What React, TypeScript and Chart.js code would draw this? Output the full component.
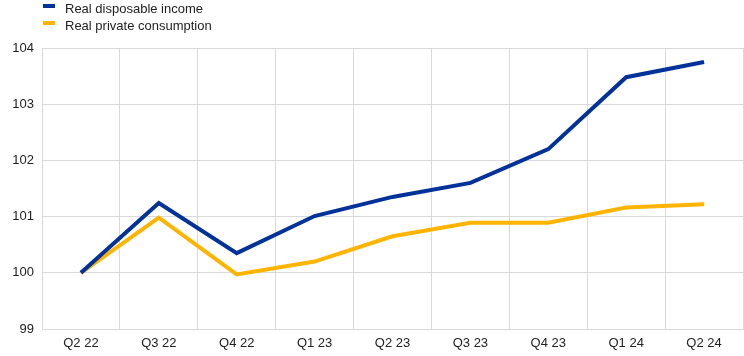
import React, { useEffect, useRef } from "react";
import { Chart, registerables } from "chart.js";

Chart.register(...registerables);

const categories = ["Q2 22", "Q3 22", "Q4 22", "Q1 23", "Q2 23", "Q3 23", "Q4 23", "Q1 24", "Q2 24"];
const disposableIncome = [100.0, 101.24, 100.35, 101.01, 101.35, 101.6, 102.2, 103.48, 103.75];
const privateConsumption = [100.0, 100.98, 99.97, 100.2, 100.65, 100.89, 100.89, 101.16, 101.22];
const seriesNames = ["Real disposable income", "Real private consumption"];
const seriesColors = ["#003299", "#ffb400"];

export default function App() {
  const ref = useRef<HTMLCanvasElement | null>(null);

  useEffect(() => {
    if (!ref.current) return;
    const chart = new Chart(ref.current, {
      type: "line",
      data: {
        labels: categories,
        datasets: [
          {
            label: seriesNames[0],
            data: disposableIncome,
            borderColor: seriesColors[0],
            backgroundColor: seriesColors[0],
            borderWidth: 4,
            pointRadius: 0,
            tension: 0,
          },
          {
            label: seriesNames[1],
            data: privateConsumption,
            borderColor: seriesColors[1],
            backgroundColor: seriesColors[1],
            borderWidth: 4,
            pointRadius: 0,
            tension: 0,
          },
        ],
      },
      options: {
        animation: false,
        responsive: false,
        maintainAspectRatio: false,
        layout: { padding: { top: 48, left: 0, right: 1, bottom: 0 } },
        plugins: { legend: { display: false }, tooltip: { enabled: false } },
        scales: {
          x: {
            offset: true,
            grid: { offset: true, color: "#d9d9d9", lineWidth: 1, drawTicks: false },
            border: { color: "#d9d9d9" },
            ticks: { color: "#222", font: { family: "Liberation Sans, Arial", size: 13 }, padding: 7, maxRotation: 0 },
            afterFit: (s: any) => { s.height = 27; },
          },
          y: {
            min: 99,
            max: 104,
            grid: { color: "#d9d9d9", lineWidth: 1, drawTicks: false },
            border: { color: "#d9d9d9" },
            ticks: { stepSize: 1, color: "#222", font: { family: "Liberation Sans, Arial", size: 13 }, padding: 8 },
            afterFit: (s: any) => { s.width = 42; },
          },
        },
      },
    });
    return () => chart.destroy();
  }, []);

  return (
    <div style={{ position: "fixed", left: 0, top: 0, width: 744, height: 356, background: "#fff" }}>
      <canvas ref={ref} width={744} height={356} style={{ position: "absolute", left: 0, top: 0, width: 744, height: 356 }} />
      <div style={{ position: "absolute", left: 43, top: 0, fontFamily: "Liberation Sans, Arial", fontSize: 13, color: "#222" }}>
        {seriesNames.map((n, i) => (
          <div key={n} style={{ position: "absolute", left: 0, top: i * 17, whiteSpace: "nowrap", height: 17 }}>
            <span style={{ position: "absolute", left: 0, top: 4, width: 12, height: 4, background: seriesColors[i] }} />
            <span style={{ position: "absolute", left: 22, top: 1, lineHeight: "15px" }}>{n}</span>
          </div>
        ))}
      </div>
    </div>
  );
}
